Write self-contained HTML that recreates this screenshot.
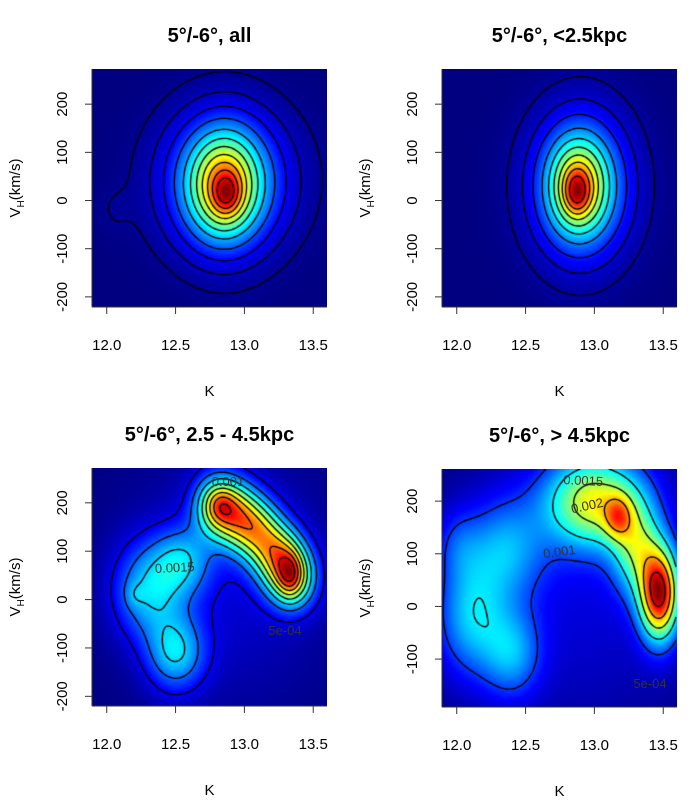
<!DOCTYPE html>
<html><head><meta charset="utf-8">
<style>
body{margin:0;background:#fff;width:700px;height:800px;position:relative;overflow:hidden;font-family:"Liberation Sans",sans-serif}
canvas{position:absolute}
svg{position:absolute;left:0;top:0}
</style></head>
<body>
<canvas id="c0"></canvas>
<canvas id="c1"></canvas>
<canvas id="c2"></canvas>
<canvas id="c3"></canvas>
<svg id="ov" width="700" height="800"></svg>
<script>
// Gaussian mixture components per panel: [K, V, sigmaK, sigmaV, weight]
const compAll=[[12.87,12,0.07,30,0.25],[12.85,30,0.16,70,0.45],[12.85,35,0.25,90,0.35],[12.88,45,0.33,95,0.15],[12.05,-20,0.1,40,0.02]];
const compNear=[[12.87,18,0.06,30,0.28],[12.88,30,0.14,65,0.45],[12.9,30,0.22,95,0.35],[12.9,30,0.3,120,0.08]];
const compMid=[[12.8,195,0.12,45,0.65],[12.95,175,0.12,45,0.6],[13.1,140,0.12,45,0.6],[13.25,90,0.12,45,0.65],[13.35,45,0.12,45,0.65],[13.33,50,0.06,30,0.3],[12.82,195,0.07,25,0.2],[12.5,-110,0.15,55,0.42],[12.3,20,0.18,70,0.4],[12.55,80,0.15,50,0.33],[12.2,10,0.05,18,0.08],[12.9,50,0.5,180,0.12]];
const compFar=[[13.47,25,0.1,60,0.95],[13.17,170,0.07,28,0.3],[13.0,200,0.25,60,0.6],[13.3,110,0.12,60,0.4],[12.1,-20,0.18,80,0.3],[12.4,-90,0.15,60,0.25],[12.35,110,0.2,70,0.25],[12.0,120,0.12,50,0.12],[12.9,50,0.6,200,0.1]];
const levelsAll=[0.02,0.06,0.12,0.2,0.3,0.4,0.5,0.6,0.7,0.8,0.9];
const levelsNear=[0.03,0.08,0.15,0.25,0.35,0.45,0.55,0.65,0.75,0.87];
const levelsMid=[0.111,0.222,0.333,0.444,0.556,0.667,0.778,0.889];
const levelsFar=[0.18,0.36,0.54,0.71,0.89];
const titles=["5°/-6°, all","5°/-6°, <2.5kpc","5°/-6°, 2.5 - 4.5kpc","5°/-6°, > 4.5kpc"];
const xTicks=[12.0,12.5,13.0,13.5];
const yTicksStd=[-200,-100,0,100,200];
const yTicksFar=[-100,0,100,200];

const panels=[
 {id:'c0',x:92,y:69,w:235,h:238,v0:-221,v1:273,comp:compAll,lev:levelsAll,yt:yTicksStd,name:'all'},
 {id:'c1',x:442,y:69,w:235,h:238,v0:-221,v1:273,comp:compNear,lev:levelsNear,yt:yTicksStd,name:'near'},
 {id:'c2',x:92,y:468,w:235,h:238,v0:-220,v1:272,comp:compMid,lev:levelsMid,yt:yTicksStd,name:'mid'},
 {id:'c3',x:442,y:469,w:235,h:238,v0:-191,v1:261,comp:compFar,lev:levelsFar,yt:yTicksFar,name:'far'}
];
const K0=11.893,K1=13.6;
function jet(t){const c=v=>Math.max(0,Math.min(1,v));return [c(1.5-Math.abs(4*t-3)),c(1.5-Math.abs(4*t-2)),c(1.5-Math.abs(4*t-1))];}
function dens(comp,k,v){let s=0;for(const c of comp){const a=(k-c[0])/c[2],b=(v-c[1])/c[3];s+=c[4]*Math.exp(-0.5*(a*a+b*b));}return s;}
const ov=document.getElementById('ov');const NS='http://www.w3.org/2000/svg';
function el(tag,attrs,txt){const e=document.createElementNS(NS,tag);for(const k in attrs)e.setAttribute(k,attrs[k]);if(txt!=null)e.textContent=txt;ov.appendChild(e);return e;}
panels.forEach((p,pi)=>{
 const cv=document.getElementById(p.id);cv.width=p.w;cv.height=p.h;cv.style.left=p.x+'px';cv.style.top=p.y+'px';
 const ctx=cv.getContext('2d');
 const sx=px=>K0+(px/p.w)*(K1-K0), sy=py=>p.v1-(py/p.h)*(p.v1-p.v0);
 const W=p.w+1,H=p.h+1;const f=new Float32Array(W*H);let mx=0;
 for(let j=0;j<H;j++)for(let i=0;i<W;i++){const d=dens(p.comp,sx(i),sy(j));f[j*W+i]=d;if(d>mx)mx=d;}
 for(let n=0;n<f.length;n++)f[n]/=mx;
 const img=ctx.createImageData(p.w,p.h);
 for(let j=0;j<p.h;j++)for(let i=0;i<p.w;i++){const c=jet(f[j*W+i]);const o=(j*p.w+i)*4;img.data[o]=c[0]*255;img.data[o+1]=c[1]*255;img.data[o+2]=c[2]*255;img.data[o+3]=255;}
 ctx.putImageData(img,0,0);
 ctx.strokeStyle='#000';ctx.lineWidth=1.4;
 const st=2;
 for(const L of p.lev){ctx.beginPath();
  for(let j=0;j+st<H;j+=st)for(let i=0;i+st<W;i+=st){
   const a=f[j*W+i],b=f[j*W+i+st],c=f[(j+st)*W+i+st],d=f[(j+st)*W+i];
   const pts=[];
   if((a<L)!=(b<L))pts.push([i+st*(L-a)/(b-a),j]);
   if((b<L)!=(c<L))pts.push([i+st,j+st*(L-b)/(c-b)]);
   if((c<L)!=(d<L))pts.push([i+st*(L-d)/(c-d),j+st]);
   if((d<L)!=(a<L))pts.push([i,j+st*(L-a)/(d-a)]);
   for(let q=0;q+1<pts.length;q+=2){ctx.moveTo(pts[q][0],pts[q][1]);ctx.lineTo(pts[q+1][0],pts[q+1][1]);}
  }
  ctx.stroke();}
 const X=k=>p.x+(k-K0)/(K1-K0)*p.w, Y=v=>p.y+(p.v1-v)/(p.v1-p.v0)*p.h;
 const cx=p.x+p.w/2,by=p.y+p.h;
 let e;
 e=el('text',{x:cx,y:p.y-27,'text-anchor':'middle','font-size':'20','font-weight':'bold',fill:'#000'},titles[pi]);
 
 e=el('line',{x1:p.x,y1:by,x2:p.x+p.w,y2:by,stroke:'#333','stroke-width':1});
 
 e=el('line',{x1:p.x,y1:p.y,x2:p.x,y2:by,stroke:'#333','stroke-width':1});
 
 xTicks.forEach(t=>{el('line',{x1:X(t),y1:by,x2:X(t),y2:by+7,stroke:'#333'});
  e=el('text',{x:X(t),y:by+43,'text-anchor':'middle','font-size':'15',fill:'#000'},t.toFixed(1));
  });
 p.yt.forEach(t=>{el('line',{x1:p.x-7,y1:Y(t),x2:p.x,y2:Y(t),stroke:'#333'});
  e=el('text',{x:0,y:0,'text-anchor':'middle','font-size':'15',fill:'#000',transform:`translate(${p.x-25},${Y(t)}) rotate(-90)`},String(t));
  });
 e=el('text',{x:cx,y:by+89,'text-anchor':'middle','font-size':'15',fill:'#000'},'K');
 
 const my=p.y+p.h/2;
 e=el('text',{x:0,y:0,'text-anchor':'middle','font-size':'15',fill:'#000',transform:`translate(${p.x-72},${my}) rotate(-90)`});
 
 e.innerHTML='V<tspan font-size="10" dy="4">H</tspan><tspan dy="-4">(km/s)</tspan>';
});
const labs=[[175,572,'0.0015',-3],[228,486,'0.001',0],[285,635,'5e-04',0],[583,485,'0.0015',3],[588,510,'0.002',-12],[560,556,'0.001',-8],[650,688,'5e-04',0]];
labs.forEach(l=>{const e=el('text',{x:l[0],y:l[1],'font-size':'13',fill:'#333','text-anchor':'middle',transform:`rotate(${l[3]} ${l[0]} ${l[1]})`},l[2]);
 });
</script>
</body></html>
